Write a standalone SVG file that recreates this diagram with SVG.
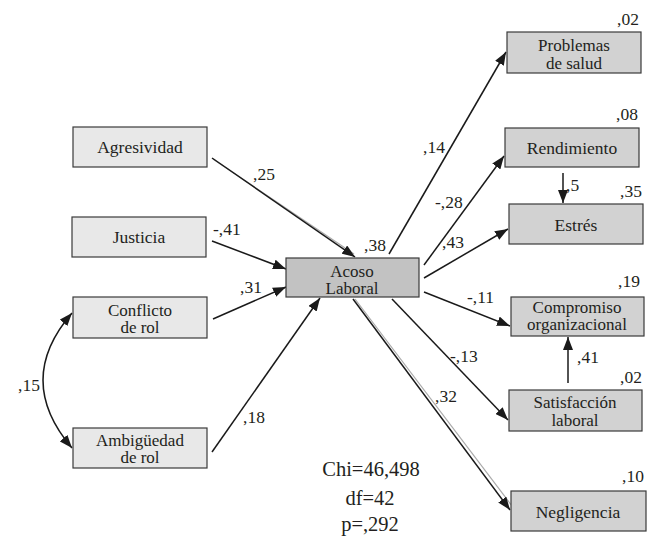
<svg xmlns="http://www.w3.org/2000/svg" width="661" height="538" viewBox="0 0 661 538">
<style>
.dlbl{font-size:17.5px;text-anchor:middle;fill:#231f20}
.d2{font-size:17px;text-anchor:middle;fill:#231f20}
.dcoef{font-size:17.5px;fill:#231f20}
.dstat{font-size:20.5px;text-anchor:middle;fill:#231f20}
.bl{fill:#e8e8e8;stroke:#3a3a3a;stroke-width:1.2}
.br{fill:#d2d2d2;stroke:#3a3a3a;stroke-width:1.2}
.bc{fill:#c2c2c2;stroke:#3a3a3a;stroke-width:1.2}
.e{stroke:#1a1a1a;stroke-width:1.5;fill:none;marker-end:url(#ah)}
.sh{stroke:#aaaaaa;stroke-width:1.2;fill:none}
</style>
<defs>
<marker id="ah" markerUnits="userSpaceOnUse" markerWidth="14" markerHeight="10" refX="13" refY="5" orient="auto">
<path d="M0,0 L13,5 L0,10 Z" fill="#1a1a1a"/>
</marker>
<marker id="as" markerUnits="userSpaceOnUse" markerWidth="14" markerHeight="10" refX="1" refY="5" orient="auto">
<path d="M14,0 L1,5 L14,10 Z" fill="#1a1a1a"/>
</marker>
</defs>
<g id="connectors">
<line class="sh" x1="213" y1="159" x2="354" y2="254"/>
<line class="e" x1="212" y1="158" x2="355" y2="257"/>
<line class="e" x1="212" y1="241" x2="286" y2="269"/>
<line class="e" x1="213" y1="319" x2="286" y2="287"/>
<line class="e" x1="212" y1="452" x2="320" y2="298"/>
<path class="e" d="M72,313 Q14,380 72,448" style="marker-start:url(#as)"/>
<line class="e" x1="389" y1="254" x2="506" y2="52"/>
<line class="e" x1="424" y1="265" x2="504" y2="156"/>
<line class="e" x1="424" y1="278" x2="508" y2="229"/>
<line class="e" x1="424" y1="292" x2="510" y2="326"/>
<line class="e" x1="392" y1="299" x2="508" y2="420"/>
<line class="sh" x1="355" y1="299" x2="512" y2="506"/>
<line class="e" x1="353" y1="299" x2="510" y2="510"/>
<line class="e" x1="563" y1="173" x2="563" y2="203"/>
<line class="e" x1="568" y1="383" x2="568" y2="337"/>
</g>
<g id="labels-coef">
<text class="dcoef" style="font-family:'Liberation Serif'" x="253" y="180">,25</text>
<text class="dcoef" style="font-family:'Liberation Serif'" x="213" y="235">-,41</text>
<text class="dcoef" style="font-family:'Liberation Serif'" x="240" y="293">,31</text>
<text class="dcoef" style="font-family:'Liberation Serif'" x="243" y="423">,18</text>
<text class="dcoef" style="font-family:'Liberation Serif'" x="18" y="391">,15</text>
<text class="dcoef" style="font-family:'Liberation Serif'" x="364" y="251">,38</text>
<text class="dcoef" style="font-family:'Liberation Serif'" x="423" y="153">,14</text>
<text class="dcoef" style="font-family:'Liberation Serif'" x="435" y="208">-,28</text>
<text class="dcoef" style="font-family:'Liberation Serif'" x="442" y="248">,43</text>
<text class="dcoef" style="font-family:'Liberation Serif'" x="467" y="303">-,11</text>
<text class="dcoef" style="font-family:'Liberation Serif'" x="450" y="362">-,13</text>
<text class="dcoef" style="font-family:'Liberation Serif'" x="435" y="402">,32</text>
<text class="dcoef" style="font-family:'Liberation Serif'" x="566" y="191">,5</text>
<text class="dcoef" style="font-family:'Liberation Serif'" x="577" y="363">,41</text>
<text class="dcoef" style="font-family:'Liberation Serif'" x="617" y="25">,02</text>
<text class="dcoef" style="font-family:'Liberation Serif'" x="616" y="120">,08</text>
<text class="dcoef" style="font-family:'Liberation Serif'" x="620" y="197">,35</text>
<text class="dcoef" style="font-family:'Liberation Serif'" x="618" y="287">,19</text>
<text class="dcoef" style="font-family:'Liberation Serif'" x="620" y="383">,02</text>
<text class="dcoef" style="font-family:'Liberation Serif'" x="622" y="482">,10</text>
</g>
<g id="agresividad"><rect class="bl" x="73" y="127" width="134" height="40"/><text class="dlbl" style="font-family:'Liberation Serif'" x="140" y="153">Agresividad</text></g>
<g id="justicia"><rect class="bl" x="72" y="217" width="134" height="40"/><text class="dlbl" style="font-family:'Liberation Serif'" x="139" y="243">Justicia</text></g>
<g id="conflicto"><rect class="bl" x="73" y="297" width="134" height="41"/><text class="d2" style="font-family:'Liberation Serif'" x="140" y="315.5">Conflicto</text><text class="d2" style="font-family:'Liberation Serif'" x="140" y="333">de rol</text></g>
<g id="ambiguedad"><rect class="bl" x="73" y="428" width="134" height="40"/><text class="d2" style="font-family:'Liberation Serif'" x="140" y="445.5">Ambigüedad</text><text class="d2" style="font-family:'Liberation Serif'" x="140" y="463">de rol</text></g>
<g id="acoso"><rect class="bc" x="286" y="258" width="133" height="39"/><text class="d2" style="font-family:'Liberation Serif'" x="352" y="276.5">Acoso</text><text class="d2" style="font-family:'Liberation Serif'" x="352" y="294">Laboral</text></g>
<g id="problemas"><rect class="br" x="507" y="32" width="134" height="41"/><text class="d2" style="font-family:'Liberation Serif'" x="574" y="51">Problemas</text><text class="d2" style="font-family:'Liberation Serif'" x="574" y="68.5">de salud</text></g>
<g id="rendimiento"><rect class="br" x="505" y="128" width="134" height="39"/><text class="dlbl" style="font-family:'Liberation Serif'" x="572" y="154">Rendimiento</text></g>
<g id="estres"><rect class="br" x="509" y="204" width="134" height="40"/><text class="dlbl" style="font-family:'Liberation Serif'" x="576" y="231">Estrés</text></g>
<g id="compromiso"><rect class="br" x="511" y="297" width="133" height="39"/><text class="d2" style="font-family:'Liberation Serif'" x="577" y="312.5">Compromiso</text><text class="d2" style="font-family:'Liberation Serif'" x="577" y="330">organizacional</text></g>
<g id="satisfaccion"><rect class="br" x="509" y="390" width="133" height="41"/><text class="d2" style="font-family:'Liberation Serif'" x="575" y="408">Satisfacción</text><text class="d2" style="font-family:'Liberation Serif'" x="575" y="426">laboral</text></g>
<g id="negligencia"><rect class="br" x="511" y="491" width="135" height="40"/><text class="dlbl" style="font-family:'Liberation Serif'" x="578" y="518">Negligencia</text></g>
<g id="stats">
<text class="dstat" style="font-family:'Liberation Serif'" x="371" y="476">Chi=46,498</text>
<text class="dstat" style="font-family:'Liberation Serif'" x="370" y="505">df=42</text>
<text class="dstat" style="font-family:'Liberation Serif'" x="370" y="531">p=,292</text>
</g>
</svg>
